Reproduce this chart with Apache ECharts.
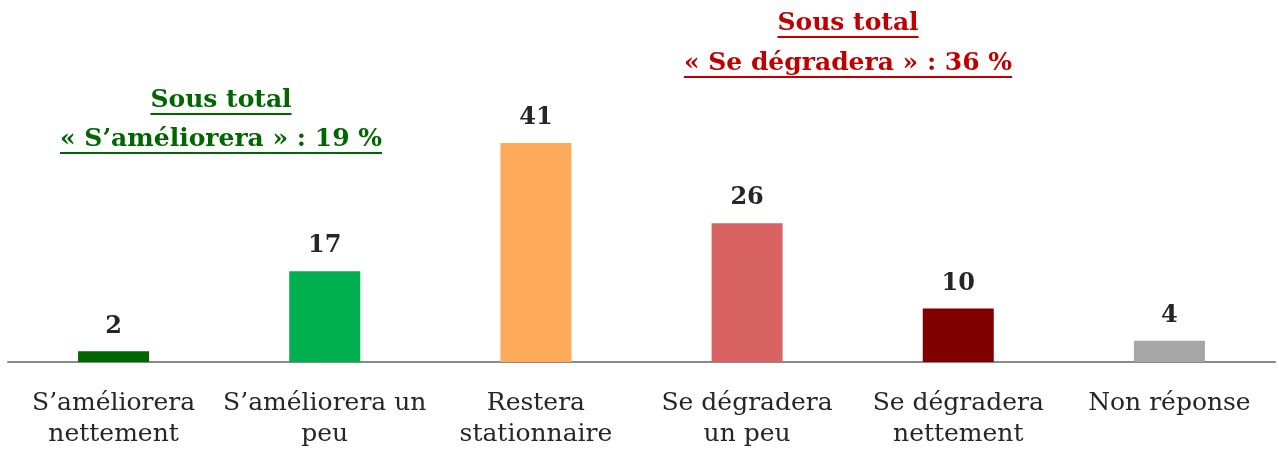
<!DOCTYPE html>
<html>
<head>
<meta charset="utf-8">
<script src="https://cdn.jsdelivr.net/npm/echarts@6/dist/echarts.min.js"></script>
<style>
  html, body { margin: 0; padding: 0; background: #fff; }
  #chart { width: 1279px; height: 455px; }
</style>
</head>
<body>
<div id="chart"></div>
<script>
// données
var categories = ['S’améliorera nettement', 'S’améliorera un peu', 'Restera stationnaire',
  'Se dégradera un peu', 'Se dégradera nettement', 'Non réponse'];
var tickLabels = ['S’améliorera\nnettement', 'S’améliorera un\npeu', 'Restera\nstationnaire',
  'Se dégradera\nun peu', 'Se dégradera\nnettement', 'Non réponse'];
var values = [2, 17, 41, 26, 10, 4];
var barColors = ['#006600', '#00B050', '#FDAB5B', '#D96262', '#800000', '#A6A6A6'];
var subtotalGood = ['Sous total', '« S’améliorera » : 19 %'];
var subtotalBad = ['Sous total', '« Se dégradera » : 36 %'];

var serif = '"DejaVu Serif", serif';
var chart = echarts.init(document.getElementById('chart'));

// largeur d'un texte pour le soulignement
var ctx = document.createElement('canvas').getContext('2d');
function textWidth(str, font) {
  ctx.font = font;
  return ctx.measureText(str).width;
}

function titleBlock(lines, cx, baselines, color) {
  var font = 'bold 25px ' + serif;
  var els = [];
  lines.forEach(function (t, i) {
    var w = textWidth(t, font);
    els.push({
      type: 'text',
      x: cx, y: baselines[i],
      style: { text: t, font: font, fill: color, align: 'center', verticalAlign: 'bottom' }
    });
    els.push({
      type: 'rect',
      shape: { x: cx - w / 2, y: baselines[i], width: w, height: 2 },
      style: { fill: color }
    });
  });
  return els;
}

var option = {
  animation: false,
  grid: { left: 8, right: 4, top: 95, bottom: 93 },
  xAxis: {
    type: 'category',
    data: categories,
    axisLine: { lineStyle: { color: '#898989', width: 2 } },
    axisTick: { show: false },
    axisLabel: {
      interval: 0,
      margin: 26,
      color: '#262626',
      fontFamily: serif,
      fontSize: 25,
      lineHeight: 31,
      formatter: function (v, i) { return tickLabels[i]; }
    }
  },
  yAxis: {
    type: 'value',
    min: 0,
    max: 50,
    show: false
  },
  series: [{
    type: 'bar',
    barWidth: 71,
    data: values.map(function (v, i) {
      return { value: v, itemStyle: { color: barColors[i] } };
    }),
    label: {
      show: true,
      position: 'top',
      distance: 13,
      color: '#262626',
      fontFamily: serif,
      fontWeight: 'bold',
      fontSize: 24
    }
  }],
  graphic: titleBlock(subtotalGood, 221, [113, 152], '#006600')
    .concat(titleBlock(subtotalBad, 848, [36, 76], '#C00000'))
};

chart.setOption(option);
</script>
</body>
</html>
